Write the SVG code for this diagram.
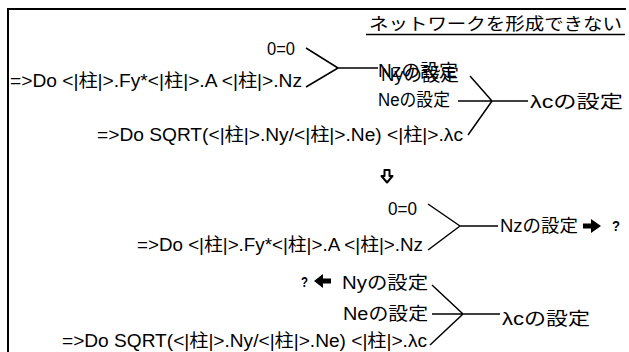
<svg xmlns="http://www.w3.org/2000/svg" width="629" height="352" viewBox="0 0 629 352">
<style>
.t{font-family:"Liberation Sans","Noto Sans CJK JP",sans-serif;font-size:18px;fill:#000}
.j{font-family:"Noto Sans CJK JP","Liberation Sans",sans-serif;font-size:17px;fill:#000}
.q{font-family:"Liberation Sans",sans-serif;font-size:15px;font-weight:bold;fill:#000}
.c{stroke:#000;stroke-width:1.5;fill:none}
.fr{stroke:#000;stroke-width:2;fill:none}
</style>
<rect width="629" height="352" fill="#fff"/>
<g id="frame">
<path class="fr" d="M8 352V9H626"/>
</g>
<g id="title">
<text class="j" x="369" y="30" textLength="253" lengthAdjust="spacingAndGlyphs">ネットワークを形成できない</text>
<line x1="366" y1="34.5" x2="625" y2="34.5" stroke="#000" stroke-width="1.5"/>
</g>
<g id="connectors">
<path class="c" d="M306 48L338 68M306 87L338 68M338 68H378"/>
<path class="c" d="M470 76L492 101M458 101H528M468 135L492 101"/>
<path class="c" d="M428 204L460 226M428 250L460 226M460 226H498"/>
<path class="c" d="M432 285L463 314M432 314H500M430 345L463 314"/>
</g>
<g id="n1"><text class="t" x="267" y="55" textLength="28" lengthAdjust="spacingAndGlyphs">0=0</text></g>
<g id="n2"><text class="t" x="10" y="87" textLength="292" lengthAdjust="spacingAndGlyphs">=&gt;Do &lt;|柱|&gt;.Fy*&lt;|柱|&gt;.A &lt;|柱|&gt;.Nz</text></g>
<g id="n3"><text class="t" x="378" y="77" textLength="80" lengthAdjust="spacingAndGlyphs">Nzの設定</text></g>
<g id="n4"><text class="t" x="381" y="81" textLength="78" lengthAdjust="spacingAndGlyphs">Nyの設定</text></g>
<g id="n5"><text class="t" x="378" y="106" textLength="72" lengthAdjust="spacingAndGlyphs">Neの設定</text></g>
<g id="n6"><text class="t" x="530" y="108" textLength="93" lengthAdjust="spacingAndGlyphs">λcの設定</text></g>
<g id="n7"><text class="t" x="97" y="141" textLength="366" lengthAdjust="spacingAndGlyphs">=&gt;Do SQRT(&lt;|柱|&gt;.Ny/&lt;|柱|&gt;.Ne) &lt;|柱|&gt;.λc</text></g>
<g id="down-arrow">
<path d="M384.5 170H389.5V176H392.5L387 182.5L381.5 176H384.5Z" fill="#fff" stroke="#000" stroke-width="2" stroke-linejoin="round"/>
</g>
<g id="n8"><text class="t" x="388" y="215" textLength="29" lengthAdjust="spacingAndGlyphs">0=0</text></g>
<g id="n9"><text class="t" x="137" y="251" textLength="286" lengthAdjust="spacingAndGlyphs">=&gt;Do &lt;|柱|&gt;.Fy*&lt;|柱|&gt;.A &lt;|柱|&gt;.Nz</text></g>
<g id="n10">
<text class="t" x="500" y="232" textLength="78" lengthAdjust="spacingAndGlyphs">Nzの設定</text>
<path d="M583 223.5H591V219L601 226L591 233V228.5H583Z" fill="#000"/>
<text class="q" x="612" y="231" textLength="8" lengthAdjust="spacingAndGlyphs">?</text>
</g>
<g id="n11">
<text class="q" x="301" y="287" textLength="7" lengthAdjust="spacingAndGlyphs">?</text>
<path d="M331 278.5H323V274L314 281L323 288V283.5H331Z" fill="#000"/>
<text class="t" x="342" y="289" textLength="86" lengthAdjust="spacingAndGlyphs">Nyの設定</text>
</g>
<g id="n12"><text class="t" x="343" y="320" textLength="85" lengthAdjust="spacingAndGlyphs">Neの設定</text></g>
<g id="n13"><text class="t" x="502" y="325" textLength="88" lengthAdjust="spacingAndGlyphs">λcの設定</text></g>
<g id="n14"><text class="t" x="62" y="347" textLength="365" lengthAdjust="spacingAndGlyphs">=&gt;Do SQRT(&lt;|柱|&gt;.Ny/&lt;|柱|&gt;.Ne) &lt;|柱|&gt;.λc</text></g>
</svg>
